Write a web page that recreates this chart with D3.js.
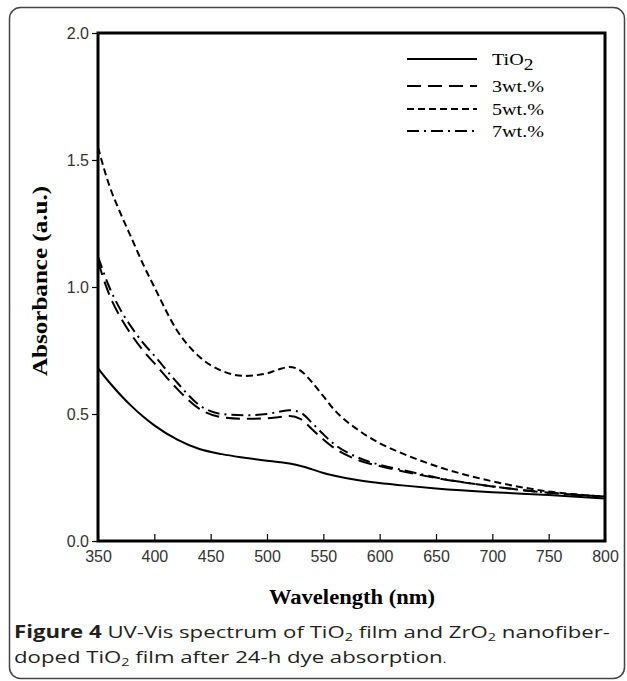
<!DOCTYPE html>
<html>
<head>
<meta charset="utf-8">
<script src="https://cdn.jsdelivr.net/npm/d3@7/dist/d3.min.js"></script>
<style>
  html, body { margin: 0; padding: 0; background: #fff; }
  svg { display: block; }
</style>
</head>
<body>
<svg id="chart" width="627" height="681"></svg>
<script>
// ---- data ----
const wavelengths = [350, 360, 370, 380, 390, 400, 420, 440, 460, 480, 500, 510, 520, 530, 540, 550, 560, 580, 600, 620, 650, 700, 750, 800];
const tio2  = [0.68, 0.625, 0.575, 0.53, 0.49, 0.455, 0.40, 0.362, 0.342, 0.328, 0.316, 0.311, 0.305, 0.295, 0.282, 0.268, 0.257, 0.24, 0.228, 0.219, 0.207, 0.192, 0.181, 0.167];
const wt3   = [1.10, 0.97, 0.88, 0.81, 0.75, 0.70, 0.60, 0.52, 0.487, 0.481, 0.483, 0.487, 0.492, 0.48, 0.44, 0.40, 0.365, 0.32, 0.295, 0.275, 0.248, 0.215, 0.19, 0.175];
const wt5   = [1.55, 1.40, 1.29, 1.19, 1.09, 1.00, 0.83, 0.725, 0.67, 0.65, 0.66, 0.675, 0.685, 0.67, 0.625, 0.57, 0.515, 0.44, 0.385, 0.345, 0.295, 0.235, 0.195, 0.175];
const wt7   = [1.12, 1.00, 0.91, 0.84, 0.78, 0.73, 0.625, 0.535, 0.50, 0.495, 0.50, 0.508, 0.515, 0.505, 0.465, 0.42, 0.38, 0.33, 0.30, 0.28, 0.25, 0.215, 0.19, 0.175];
const seriesNames = ["TiO2", "3wt.%", "5wt.%", "7wt.%"];
const xTicks = [350, 400, 450, 500, 550, 600, 650, 700, 750, 800];
const yTicks = [0.0, 0.5, 1.0, 1.5, 2.0];
const xTitle = "Wavelength (nm)";
const yTitle = "Absorbance (a.u.)";

const series = [
  { name: seriesNames[0], values: tio2, dash: null },
  { name: seriesNames[1], values: wt3,  dash: "14,7" },
  { name: seriesNames[2], values: wt5,  dash: "7,4" },
  { name: seriesNames[3], values: wt7,  dash: "12,5,2,5" }
];

const svg = d3.select("#chart");

// outer rounded frame
svg.append("rect")
  .attr("x", 9.5).attr("y", 7.5)
  .attr("width", 615).attr("height", 671)
  .attr("rx", 11).attr("ry", 11)
  .attr("fill", "none").attr("stroke", "#444").attr("stroke-width", 1.5);

const L = 98, R = 605, T = 33, B = 541;
const x = d3.scaleLinear().domain([350, 800]).range([L, R]);
const y = d3.scaleLinear().domain([0, 2]).range([B, T]);

svg.append("defs").append("clipPath").attr("id", "clip")
  .append("rect").attr("x", L).attr("y", T).attr("width", R - L).attr("height", B - T);

const line = d3.line()
  .x((d, i) => x(wavelengths[i]))
  .y(d => y(d))
  .curve(d3.curveMonotoneX);

const g = svg.append("g").attr("clip-path", "url(#clip)");
series.forEach(s => {
  g.append("path")
    .datum(s.values)
    .attr("d", line)
    .attr("fill", "none")
    .attr("stroke", "#000")
    .attr("stroke-width", 2)
    .attr("stroke-dasharray", s.dash);
});

// axes
const xAxis = d3.axisBottom(x).tickValues(xTicks).tickFormat(d3.format("d"))
  .tickSizeInner(-7).tickSizeOuter(0).tickPadding(10);
const yAxis = d3.axisLeft(y).tickValues(yTicks).tickFormat(d3.format(".1f"))
  .tickSizeInner(6).tickSizeOuter(0).tickPadding(3);

const gx = svg.append("g").attr("transform", `translate(0,${B})`).call(xAxis);
const gy = svg.append("g").attr("transform", `translate(${L},0)`).call(yAxis);
[gx, gy].forEach(a => {
  a.select(".domain").remove();
  a.selectAll(".tick line").attr("stroke", "#000").attr("stroke-width", 1.2);
  a.selectAll(".tick text")
    .attr("fill", "#333")
    .style("font-family", "'Liberation Sans', Arial, sans-serif")
    .style("font-size", "16px");
});

// plot frame
svg.append("rect")
  .attr("x", L).attr("y", T).attr("width", R - L).attr("height", B - T)
  .attr("fill", "none").attr("stroke", "#000").attr("stroke-width", 3);

// axis titles
svg.append("text")
  .attr("x", 352).attr("y", 604)
  .attr("text-anchor", "middle")
  .attr("textLength", 166).attr("lengthAdjust", "spacingAndGlyphs")
  .style("font-family", "'Liberation Serif', 'Times New Roman', serif")
  .style("font-weight", "bold").style("font-size", "21px")
  .text(xTitle);

svg.append("text")
  .attr("transform", "translate(47,281) rotate(-90)")
  .attr("text-anchor", "middle")
  .attr("textLength", 190).attr("lengthAdjust", "spacingAndGlyphs")
  .style("font-family", "'Liberation Serif', 'Times New Roman', serif")
  .style("font-weight", "bold").style("font-size", "21px")
  .text(yTitle);

// legend
const legendY = [59, 86, 109, 131];
series.forEach((s, i) => {
  svg.append("line")
    .attr("x1", 407).attr("x2", 477)
    .attr("y1", legendY[i]).attr("y2", legendY[i])
    .attr("stroke", "#000").attr("stroke-width", 2)
    .attr("stroke-dasharray", s.dash);
  const t = svg.append("text")
    .attr("transform", `translate(492,${legendY[i] + 6}) scale(1.22,1)`)
    .style("font-family", "'Liberation Serif', 'Times New Roman', serif")
    .style("font-size", "16.5px");
  if (s.name === "TiO2") {
    t.append("tspan").text("TiO");
    t.append("tspan").attr("dy", 5).style("font-size", "16px").text("2");
  } else {
    t.text(s.name);
  }
});

// caption (reference text is horizontally stretched)
const cap = svg.append("g")
  .attr("transform", "translate(14,0) scale(1.305,1)")
  .style("font-family", "'Open Sans', 'Noto Sans', sans-serif")
  .style("font-size", "17px")
  .attr("fill", "#231f20");
const l1 = cap.append("text").attr("x", 0).attr("y", 638);
l1.append("tspan").style("font-weight", "bold").text("Figure 4");
l1.append("tspan").text(" UV-Vis spectrum of TiO");
l1.append("tspan").attr("dy", 3).style("font-size", "11px").text("2");
l1.append("tspan").attr("dy", -3).text(" film and ZrO");
l1.append("tspan").attr("dy", 3).style("font-size", "11px").text("2");
l1.append("tspan").attr("dy", -3).text(" nanofiber-");
const l2 = cap.append("text").attr("x", 0).attr("y", 663);
l2.append("tspan").text("doped TiO");
l2.append("tspan").attr("dy", 3).style("font-size", "11px").text("2");
l2.append("tspan").attr("dy", -3).text(" film after 24-h dye absorption");
l2.append("tspan").style("font-size", "11px").text(".");
</script>
</body>
</html>
